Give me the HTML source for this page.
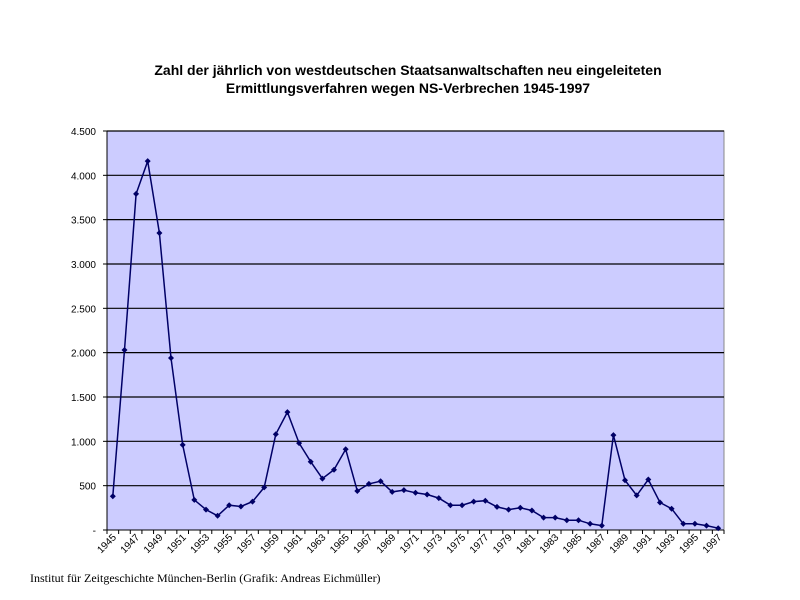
<!DOCTYPE html>
<html><head><meta charset="utf-8"><style>body{margin:0;background:#fff}svg{display:block}</style></head><body>
<svg id="s" width="800" height="600" xmlns="http://www.w3.org/2000/svg" font-family="Liberation Sans, sans-serif">
<text x="408" y="75" text-anchor="middle" font-size="14" font-weight="bold">Zahl der jährlich von westdeutschen Staatsanwaltschaften neu eingeleiteten</text>
<text x="408" y="93" text-anchor="middle" font-size="14" font-weight="bold">Ermittlungsverfahren wegen NS-Verbrechen 1945-1997</text>
<rect x="107" y="131" width="617" height="399" fill="#ccccff" stroke="#888" stroke-width="1"/>
<g id="g"></g>
<text x="30" y="582" font-family="Liberation Serif, serif" font-size="12">Institut für Zeitgeschichte München-Berlin (Grafik: Andreas Eichmüller)</text>
</svg>
<script>
var v=[380,2030,3790,4160,3350,1940,960,340,230,160,280,265,320,480,1080,1330,980,770,580,680,910,440,520,550,430,450,420,400,360,280,280,320,330,260,230,250,220,140,140,110,110,70,50,1070,560,390,570,310,240,70,70,50,20];
var g=document.getElementById('g'),h='';
function Y(a){return 530-a*0.08867;}
var lab=['-','500','1.000','1.500','2.000','2.500','3.000','3.500','4.000','4.500'];
for(var i=0;i<10;i++){var y=Y(i*500);
 if(i>0)h+='<line x1="107" x2="724" y1="'+y+'" y2="'+y+'" stroke="#000" stroke-width="1.2"/>';
 h+='<line x1="103" x2="107" y1="'+y+'" y2="'+y+'" stroke="#000"/>';
 h+='<text x="96" y="'+(y+4)+'" text-anchor="end" font-size="10">'+lab[i]+'</text>';}
h+='<line x1="107" x2="107" y1="131" y2="530" stroke="#000"/><line x1="107" x2="724" y1="530" y2="530" stroke="#000"/>';
var w=617/53,pts=[];
for(var i=0;i<=53;i++){var x=107+i*w;h+='<line x1="'+x+'" x2="'+x+'" y1="530" y2="534" stroke="#000"/>';}
for(var i=0;i<53;i++){var x=107+(i+0.5)*w;pts.push(x.toFixed(1)+','+Y(v[i]).toFixed(1));
 if(i%2==0)h+='<text transform="translate('+(x+4)+',538) rotate(-45)" text-anchor="end" font-size="10">'+(1945+i)+'</text>';}
h+='<polyline points="'+pts.join(' ')+'" fill="none" stroke="#000066" stroke-width="1.5"/>';
pts.forEach(function(p){var a=p.split(','),x=+a[0],y=+a[1];h+='<polygon points="'+x+','+(y-3)+' '+(x+3)+','+y+' '+x+','+(y+3)+' '+(x-3)+','+y+'" fill="#000066"/>';});
g.innerHTML=h;
</script>
</body></html>
